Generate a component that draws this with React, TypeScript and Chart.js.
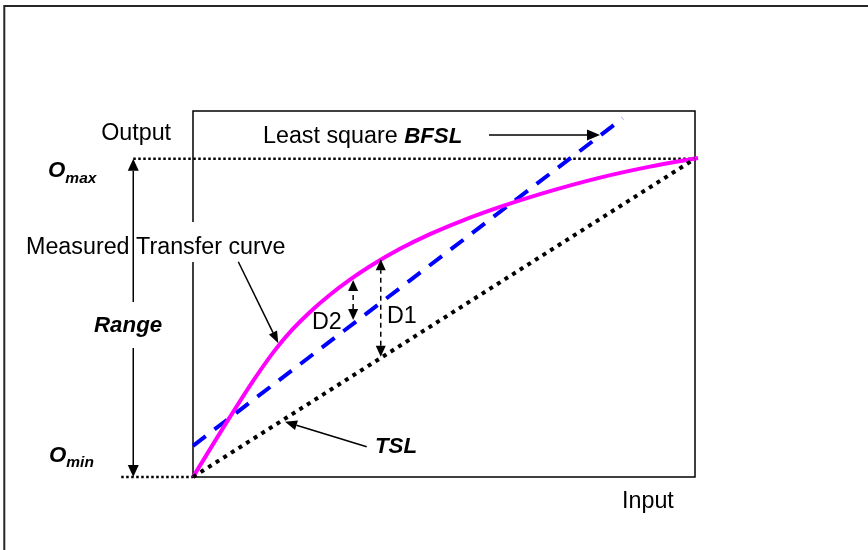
import React, { useEffect, useRef } from "react";
import { Chart, registerables } from "chart.js";

Chart.register(...registerables);

// Normalised axes: input 0..1 spans the box, output 0 = Omin, 1 = Omax.

// Measured transfer curve
const measuredX = [0, 0.0737, 0.1235, 0.1633, 0.1972, 0.2331, 0.2729, 0.3127, 0.3526, 0.4124, 0.4721, 0.5319, 0.6116, 0.6912, 0.8108, 0.9104, 1.006];
const measuredY = [0, 0.1888, 0.3107, 0.3987, 0.4621, 0.5187, 0.5727, 0.6202, 0.6623, 0.7169, 0.7631, 0.8027, 0.8486, 0.8888, 0.9406, 0.9752, 1.0022];

// Least square best fit straight line (BFSL)
const bfslX = [0, 0.856];
const bfslY = [0.098, 1.127];

// Terminal straight line (TSL)
const tslX = [0, 1];
const tslY = [0, 1];

// Output limits and their dotted guide lines
const outputMin = 0;
const outputMax = 1;
const omaxGuideX = [-0.119, 1];
const ominGuideX = [-0.143, 0];

// Deviation markers [input, from, to]
const d1Marker = [0.374, 0.378, 0.684];
const d2Marker = [0.319, 0.493, 0.619];

const FONT = '"Liberation Sans", Arial, sans-serif';
const REG = `23.3px ${FONT}`;
const BI = `italic bold 22.3px ${FONT}`;
const BI_SUB = `italic bold 15.5px ${FONT}`;

type Part = { text: string; font: string; dy?: number };
type Label = { x: number; y: number; parts: Part[]; bg?: boolean };

const labels: Label[] = [
  { x: -0.183, y: 1.059, parts: [{ text: "Output", font: REG }] },
  { x: 0.1394, y: 1.0493, parts: [{ text: "Least square ", font: REG }, { text: "BFSL", font: BI }] },
  { x: -0.2888, y: 0.9425, parts: [{ text: "O", font: BI }, { text: "max", font: BI_SUB, dy: 6 }] },
  { x: -0.2869, y: 0.0471, parts: [{ text: "O", font: BI }, { text: "min", font: BI_SUB, dy: 5 }] },
  { x: -0.1972, y: 0.4555, parts: [{ text: "Range", font: BI }] },
  { x: -0.3327, y: 0.7006, parts: [{ text: "Measured Transfer curve", font: REG }], bg: true },
  { x: 0.2371, y: 0.465, parts: [{ text: "D2", font: REG }] },
  { x: 0.3865, y: 0.4838, parts: [{ text: "D1", font: REG }] },
  { x: 0.3625, y: 0.0754, parts: [{ text: "TSL", font: BI }] },
  { x: 0.8546, y: -0.0974, parts: [{ text: "Input", font: REG }] },
];

type Arrow = {
  from: [number, number];
  to: [number, number];
  both?: boolean;
  dash?: number[];
  head: [number, number];
};

const rangeX = omaxGuideX[0];
const arrows: Arrow[] = [
  { from: [rangeX, 0.5498], to: [rangeX, outputMax], head: [12, 11] },
  { from: [rangeX, 0.4053], to: [rangeX, outputMin], head: [12, 11] },
  { from: [0.5896, 1.0745], to: [0.8108, 1.0745], head: [13, 11] },
  { from: [0.346, 0.0952], to: [0.1833, 0.1737], head: [12, 10] },
  { from: [0.0902, 0.6764], to: [0.1699, 0.42], head: [12, 9] },
  { from: [d1Marker[0], d1Marker[1]], to: [d1Marker[0], d1Marker[2]], both: true, dash: [5, 4], head: [11, 10] },
  { from: [d2Marker[0], d2Marker[1]], to: [d2Marker[0], d2Marker[2]], both: true, dash: [5, 4], head: [11, 10] },
];

const zip = (xs: number[], ys: number[]) => xs.map((x, i) => ({ x, y: ys[i] }));

function drawHead(ctx: CanvasRenderingContext2D, tx: number, ty: number, ang: number, len: number, w: number) {
  ctx.save();
  ctx.translate(tx, ty);
  ctx.rotate(ang);
  ctx.beginPath();
  ctx.moveTo(0, 0);
  ctx.lineTo(-len, -w / 2);
  ctx.lineTo(-len, w / 2);
  ctx.closePath();
  ctx.fill();
  ctx.restore();
}

const diagramPlugin = {
  id: "diagram",
  beforeDatasetsDraw(chart: any) {
    const { ctx, chartArea: a } = chart;
    ctx.save();
    ctx.strokeStyle = "#262626";
    ctx.lineWidth = 2;
    ctx.beginPath();
    ctx.moveTo(4.3, 550);
    ctx.lineTo(4.3, 6);
    ctx.lineTo(868, 6);
    ctx.stroke();
    ctx.strokeStyle = "#000";
    ctx.lineWidth = 1.5;
    ctx.strokeRect(a.left, a.top, a.right - a.left, a.bottom - a.top);
    ctx.restore();
  },
  afterDatasetsDraw(chart: any) {
    const { ctx } = chart;
    const xs = chart.scales.x;
    const ys = chart.scales.y;
    const px = (v: number) => xs.getPixelForValue(v);
    const py = (v: number) => ys.getPixelForValue(v);
    ctx.save();
    ctx.textBaseline = "alphabetic";
    ctx.textAlign = "left";
    for (const l of labels) {
      let x = px(l.x);
      const y = py(l.y);
      if (l.bg) {
        let w = 0;
        for (const p of l.parts) {
          ctx.font = p.font;
          w += ctx.measureText(p.text).width;
        }
        ctx.fillStyle = "#fff";
        ctx.fillRect(x - 2, y - 32, w + 4, 40);
      }
      ctx.fillStyle = "#000";
      for (const p of l.parts) {
        ctx.font = p.font;
        ctx.fillText(p.text, x, y + (p.dy || 0));
        x += ctx.measureText(p.text).width;
      }
    }
    ctx.strokeStyle = "#000";
    ctx.fillStyle = "#000";
    ctx.lineWidth = 1.5;
    for (const a of arrows) {
      const x1 = px(a.from[0]);
      const y1 = py(a.from[1]);
      const x2 = px(a.to[0]);
      const y2 = py(a.to[1]);
      const ang = Math.atan2(y2 - y1, x2 - x1);
      const [len, w] = a.head;
      const cx = Math.cos(ang) * len;
      const cy = Math.sin(ang) * len;
      const sx = a.both ? x1 + cx : x1;
      const sy = a.both ? y1 + cy : y1;
      ctx.setLineDash(a.dash || []);
      ctx.beginPath();
      ctx.moveTo(sx, sy);
      ctx.lineTo(x2 - cx, y2 - cy);
      ctx.stroke();
      ctx.setLineDash([]);
      drawHead(ctx, x2, y2, ang, len, w);
      if (a.both) drawHead(ctx, x1, y1, ang + Math.PI, len, w);
    }
    ctx.restore();
  },
};

export default function App() {
  const ref = useRef<HTMLCanvasElement | null>(null);
  useEffect(() => {
    if (!ref.current) return;
    const chart = new Chart(ref.current, {
      type: "scatter",
      data: {
        datasets: [
          {
            label: "TSL",
            data: zip(tslX, tslY),
            showLine: true,
            borderColor: "#000",
            borderWidth: 4,
            borderDash: [4, 5],
            pointRadius: 0,
            clip: false,
          },
          {
            label: "Measured Transfer curve",
            data: zip(measuredX, measuredY),
            showLine: true,
            borderColor: "#ff00ff",
            borderWidth: 4,
            cubicInterpolationMode: "monotone",
            pointRadius: 0,
            clip: false,
          },
          {
            label: "Least square BFSL",
            data: zip(bfslX, bfslY),
            showLine: true,
            borderColor: "#0000ff",
            borderWidth: 4,
            borderDash: [16, 11],
            pointRadius: 0,
            clip: false,
          },
          {
            label: "Omax",
            data: zip(omaxGuideX, [outputMax, outputMax]),
            showLine: true,
            borderColor: "#000",
            borderWidth: 2.5,
            borderDash: [2.5, 2.5],
            pointRadius: 0,
            clip: false,
          },
          {
            label: "Omin",
            data: zip(ominGuideX, [outputMin, outputMin]),
            showLine: true,
            borderColor: "#000",
            borderWidth: 2.5,
            borderDash: [2.5, 2.5],
            pointRadius: 0,
            clip: false,
          },
        ] as any,
      },
      options: {
        animation: false,
        responsive: false,
        devicePixelRatio: 1,
        layout: { padding: { left: 193, right: 173, top: 111, bottom: 73 } },
        scales: {
          x: { type: "linear", min: 0, max: 1, display: false },
          y: { type: "linear", min: 0, max: 1.15, display: false },
        },
        plugins: { legend: { display: false }, tooltip: { enabled: false } },
        events: [],
      },
      plugins: [diagramPlugin],
    });
    return () => chart.destroy();
  }, []);
  return (
    <div style={{ position: "absolute", left: 0, top: 0, width: 868, height: 550, background: "#fff" }}>
      <canvas ref={ref} width={868} height={550} style={{ display: "block" }} />
    </div>
  );
}
